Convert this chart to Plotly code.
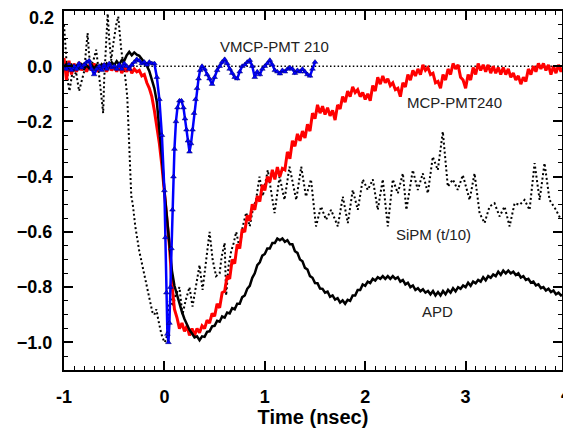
import plotly.graph_objects as go

# ---------------- data ----------------
# Sampled waveforms: start time and sample step (ns)
RED_T0, RED_DT = -1.0, 0.025
APD_T0, APD_DT = -1.0, 0.025

mcp240_y = [
    0.03, -0.05, 0.02, -0.03, 0.01, -0.02, 0.015, -0.015, 0.01, -0.02,
    0.005, -0.015, 0.01, -0.02, 0.0, -0.015, 0.01, -0.02, 0.005, -0.015,
    0.0, -0.02, 0.005, -0.025, -0.005, -0.02, 0.0, -0.025, -0.01, -0.02,
    -0.015, -0.035, -0.03, -0.06, -0.08, -0.11, -0.16, -0.22, -0.28, -0.36,
    -0.46, -0.53, -0.65, -0.79, -0.88, -0.91, -0.95, -0.93, -0.96, -0.94,
    -0.975, -0.95, -0.975, -0.95, -0.965, -0.94, -0.95, -0.92, -0.93, -0.895,
    -0.905, -0.86, -0.875, -0.82, -0.815, -0.76, -0.77, -0.70, -0.715, -0.645,
    -0.66, -0.59, -0.60, -0.54, -0.56, -0.50, -0.52, -0.47, -0.49, -0.43,
    -0.45, -0.40, -0.42, -0.375, -0.41, -0.365, -0.40, -0.37, -0.375, -0.31,
    -0.335, -0.27, -0.29, -0.245, -0.27, -0.235, -0.26, -0.21, -0.235, -0.17,
    -0.19, -0.14, -0.17, -0.145, -0.175, -0.15, -0.18, -0.16, -0.195, -0.14,
    -0.155, -0.11, -0.13, -0.09, -0.11, -0.075, -0.095, -0.085, -0.11, -0.095,
    -0.12, -0.10, -0.125, -0.07, -0.09, -0.04, -0.065, -0.035, -0.06, -0.045,
    -0.07, -0.06, -0.085, -0.08, -0.11, -0.06, -0.075, -0.03, -0.05, -0.015,
    -0.035, -0.01, -0.03, 0.005, -0.015, -0.005, -0.03, -0.025, -0.06, -0.055,
    -0.08, -0.03, -0.05, -0.01, -0.03, 0.01, -0.01, 0.005, -0.04, -0.05,
    -0.08, -0.03, -0.05, -0.005, -0.03, 0.01, -0.015, 0.005, -0.02, 0.005,
    -0.025, 0.0, -0.025, -0.005, -0.03, -0.005, -0.03, -0.01, -0.04, -0.025,
    -0.05, -0.035, -0.065, -0.04, -0.055, -0.01, -0.03, 0.0, -0.02, 0.01,
    -0.01, 0.01, -0.015, 0.005, -0.03, 0.0, -0.025, 0.005, -0.02, 0.0,
]

apd_y = [
    -0.005, 0.008, -0.010, 0.004, -0.012, 0.002, -0.008, 0.006, -0.010, 0.003,
    -0.007, 0.005, -0.009, 0.004, -0.006, 0.007, -0.004, 0.010, 0.000, 0.014,
    0.004, 0.018, 0.006, 0.022, 0.020, 0.040, 0.052, 0.040, 0.050, 0.042,
    0.038, 0.026, 0.018, 0.002, -0.018, -0.045, -0.080, -0.130, -0.220, -0.330,
    -0.450, -0.545, -0.660, -0.740, -0.795, -0.830, -0.865, -0.890, -0.915, -0.935,
    -0.955, -0.968, -0.982, -0.978, -0.992, -0.978, -0.980, -0.962, -0.960, -0.942,
    -0.940, -0.922, -0.925, -0.906, -0.910, -0.892, -0.895, -0.876, -0.880, -0.860,
    -0.860, -0.836, -0.830, -0.806, -0.795, -0.766, -0.750, -0.720, -0.710, -0.686,
    -0.680, -0.660, -0.660, -0.640, -0.640, -0.624, -0.630, -0.624, -0.636, -0.630,
    -0.645, -0.645, -0.670, -0.676, -0.700, -0.706, -0.730, -0.736, -0.760, -0.766,
    -0.785, -0.786, -0.805, -0.806, -0.820, -0.816, -0.835, -0.830, -0.845, -0.840,
    -0.856, -0.848, -0.860, -0.846, -0.850, -0.830, -0.830, -0.810, -0.810, -0.790,
    -0.795, -0.780, -0.785, -0.770, -0.776, -0.764, -0.770, -0.760, -0.770, -0.760,
    -0.770, -0.760, -0.770, -0.764, -0.780, -0.774, -0.790, -0.784, -0.800, -0.794,
    -0.810, -0.804, -0.815, -0.808, -0.820, -0.814, -0.826, -0.814, -0.830, -0.818,
    -0.830, -0.814, -0.826, -0.810, -0.820, -0.804, -0.815, -0.800, -0.806, -0.794,
    -0.800, -0.784, -0.795, -0.780, -0.786, -0.774, -0.780, -0.764, -0.775, -0.760,
    -0.766, -0.754, -0.760, -0.744, -0.755, -0.740, -0.750, -0.740, -0.750, -0.744,
    -0.756, -0.750, -0.765, -0.760, -0.774, -0.770, -0.784, -0.780, -0.794, -0.790,
    -0.804, -0.800, -0.812, -0.806, -0.818, -0.812, -0.826, -0.820, -0.830, -0.826,
]

vmcp_t = [
    -1.000, -0.975, -0.950, -0.925, -0.900, -0.875, -0.850, -0.825, -0.800, -0.775,
    -0.750, -0.725, -0.700, -0.675, -0.650, -0.625, -0.600, -0.575, -0.550, -0.525,
    -0.500, -0.475, -0.450, -0.425, -0.400, -0.375, -0.350, -0.325, -0.300, -0.275,
    -0.250, -0.225, -0.200, -0.175, -0.150, -0.125, -0.100, -0.075, -0.050, -0.025,
    0.000, 0.010, 0.020, 0.030, 0.040, 0.050, 0.060, 0.070, 0.080, 0.090,
    0.100, 0.115, 0.130, 0.150, 0.170, 0.190, 0.205, 0.220, 0.235, 0.250,
    0.265, 0.280, 0.295, 0.310, 0.325, 0.340, 0.355, 0.375, 0.400, 0.425,
    0.450, 0.475, 0.500, 0.525, 0.550, 0.575, 0.600, 0.625, 0.650, 0.675,
    0.700, 0.725, 0.750, 0.775, 0.800, 0.825, 0.850, 0.875, 0.900, 0.925,
    0.950, 0.975, 1.000, 1.025, 1.050, 1.075, 1.100, 1.125, 1.150, 1.175,
    1.200, 1.225, 1.250, 1.275, 1.300, 1.325, 1.350, 1.375, 1.400, 1.425,
    1.450, 1.475, 1.500,
]
vmcp_y = [
    0.0, -0.01, 0.005, -0.015, 0.0, -0.01, 0.01, -0.005, 0.005, 0.015,
    0.02, -0.01, -0.03, -0.01, 0.0, -0.015, 0.005, -0.01, 0.01, -0.005,
    0.0, -0.01, 0.005, -0.01, 0.01, 0.0, -0.01, 0.005, 0.015, 0.025,
    0.02, 0.01, 0.015, 0.005, 0.015, 0.01, 0.01, -0.04, -0.12, -0.25,
    -0.45, -0.62, -0.82, -0.97, -1.0, -0.93, -0.80, -0.66, -0.52, -0.40,
    -0.30, -0.20, -0.15, -0.125, -0.125, -0.15, -0.19, -0.23, -0.27, -0.31,
    -0.28, -0.23, -0.17, -0.12, -0.08, -0.045, -0.015, 0.0, -0.01, -0.03,
    -0.045, -0.065, -0.04, -0.015, 0.0, 0.015, 0.025, 0.01, -0.01, -0.025,
    -0.04, -0.045, -0.02, 0.0, 0.005, 0.015, 0.022, 0.0, -0.04, -0.02,
    -0.03, -0.01, 0.0, 0.01, 0.022, 0.005, -0.015, -0.02, -0.027, -0.015,
    -0.02, -0.01, -0.005, -0.01, -0.025, -0.015, -0.02, -0.01, -0.02, -0.03,
    -0.035, -0.01, 0.015,
]

sipm_t = [
    -1.0, -0.98, -0.96, -0.945, -0.92, -0.9, -0.88, -0.85, -0.82, -0.8,
    -0.78, -0.765, -0.75, -0.73, -0.7, -0.68, -0.66, -0.646, -0.625, -0.61,
    -0.6, -0.585, -0.565, -0.55, -0.53, -0.51, -0.497, -0.48, -0.46, -0.445,
    -0.43, -0.41, -0.39, -0.37, -0.355, -0.345, -0.33, -0.315, -0.29, -0.25,
    -0.21, -0.18, -0.15, -0.12, -0.1, -0.08, -0.06, -0.03, 0.0, 0.02,
    0.04, 0.06, 0.085, 0.11, 0.15, 0.18, 0.21, 0.25, 0.28, 0.32,
    0.35, 0.38, 0.42, 0.45, 0.48, 0.515, 0.55, 0.57, 0.6, 0.615,
    0.64, 0.665, 0.69, 0.715, 0.75, 0.78, 0.815, 0.85, 0.88, 0.915,
    0.947, 0.98, 1.03, 1.065, 1.097, 1.147, 1.196, 1.246, 1.28, 1.313,
    1.363, 1.41, 1.46, 1.51, 1.56, 1.61, 1.66, 1.727, 1.777, 1.827,
    1.876, 1.926, 1.976, 2.026, 2.076, 2.125, 2.175, 2.225, 2.275, 2.325,
    2.375, 2.41, 2.474, 2.524, 2.574, 2.624, 2.673, 2.723, 2.773, 2.823,
    2.873, 2.922, 2.972, 3.04, 3.089, 3.139, 3.189, 3.238, 3.288, 3.338,
    3.388, 3.438, 3.488, 3.538, 3.587, 3.637, 3.687, 3.737, 3.786, 3.836,
    3.9, 3.95,
]
sipm_y = [
    0.15, 0.05, -0.06, -0.09, -0.03, -0.04, -0.02, -0.09, -0.05, -0.02,
    0.06, 0.12, 0.04, 0.0, 0.03, 0.06, 0.0, -0.05, -0.12, -0.17,
    -0.05, 0.08, 0.19, 0.10, 0.02, 0.08, 0.12, 0.15, 0.18, 0.12,
    0.06, 0.01, -0.04, -0.11, -0.25, -0.38, -0.47, -0.50, -0.58, -0.67,
    -0.74, -0.79, -0.84, -0.89, -0.90, -0.88, -0.92, -0.97, -1.0, -0.99,
    -0.88, -0.84, -0.87, -0.83, -0.80, -0.90, -0.85, -0.80, -0.87, -0.78,
    -0.72, -0.81, -0.70, -0.60, -0.70, -0.76, -0.75, -0.69, -0.64, -0.83,
    -0.72, -0.67, -0.64, -0.60, -0.66, -0.58, -0.53, -0.58, -0.52, -0.48,
    -0.40, -0.47, -0.376, -0.45, -0.532, -0.40, -0.484, -0.364, -0.43, -0.484,
    -0.364, -0.472, -0.41, -0.58, -0.508, -0.556, -0.52, -0.58, -0.472, -0.568,
    -0.448, -0.52, -0.41, -0.448, -0.41, -0.52, -0.41, -0.58, -0.41, -0.46,
    -0.388, -0.52, -0.376, -0.448, -0.388, -0.46, -0.328, -0.376, -0.237, -0.436,
    -0.41, -0.448, -0.394, -0.484, -0.388, -0.532, -0.568, -0.508, -0.496, -0.544,
    -0.508, -0.58, -0.496, -0.502, -0.484, -0.52, -0.351, -0.484, -0.351, -0.484,
    -0.52, -0.556,
]

X_RANGE = [-1.0, 3.96]
Y_RANGE = [-1.1, 0.2]
x_ticks = [-1, 0, 1, 2, 3]
y_ticks = [-1.0, -0.8, -0.6, -0.4, -0.2, 0.0]

labels = [
    ("VMCP-PMT 210", 1.097, 0.072),
    ("MCP-PMT240", 2.885, -0.13),
    ("SiPM (t/10)", 2.68, -0.61),
    ("APD", 2.72, -0.888),
]

# ---------------- figure ----------------
mcp240_t = [round(RED_T0 + RED_DT * i, 4) for i in range(len(mcp240_y))]
apd_t = [round(APD_T0 + APD_DT * i, 4) for i in range(len(apd_y))]

fig = go.Figure()

fig.add_trace(go.Scatter(x=X_RANGE, y=[0, 0], mode="lines",
                         line=dict(color="black", width=1.5, dash="1.5px,2.3px"),
                         hoverinfo="skip"))
fig.add_trace(go.Scatter(x=sipm_t, y=sipm_y, mode="lines",
                         line=dict(color="black", width=2, dash="2px,2.5px")))
fig.add_trace(go.Scatter(x=mcp240_t, y=mcp240_y, mode="lines",
                         line=dict(color="#ff0000", width=3)))
fig.add_trace(go.Scatter(x=apd_t, y=apd_y, mode="lines",
                         line=dict(color="black", width=2.5)))
fig.add_trace(go.Scatter(x=vmcp_t, y=vmcp_y, mode="lines+markers",
                         line=dict(color="#0000ff", width=2.5),
                         marker=dict(symbol="triangle-up", size=5, color="#0000ff",
                                     line=dict(color="#000066", width=0.5))))

for txt, lx, ly in labels:
    fig.add_annotation(x=lx, y=ly, text=txt, showarrow=False, xref="x", yref="y",
                       font=dict(family="Arial", size=15, color="#222222"))

tickfont = dict(family="Arial", size=18, color="black", weight="bold")

# tick label "4" sits at the (cropped) right edge
fig.add_annotation(x=(4 - X_RANGE[0]) / (X_RANGE[1] - X_RANGE[0]), y=0,
                   xref="paper", yref="paper", text="4", showarrow=False,
                   xanchor="center", yanchor="top", yshift=-13, font=tickfont)
# top y label "0.2" is drawn a little below the top edge, as in the reference
fig.add_annotation(x=0, y=1, xref="paper", yref="paper", text="0.2",
                   showarrow=False, xanchor="right", yanchor="middle",
                   xshift=-8, yshift=-7, font=tickfont)

fig.update_layout(
    width=563, height=428,
    margin=dict(l=64, r=1, t=11, b=58),
    paper_bgcolor="white", plot_bgcolor="white",
    showlegend=False,
    xaxis=dict(range=X_RANGE, tickvals=x_ticks, ticktext=[str(v) for v in x_ticks],
               automargin=False,
               ticks="inside", ticklen=9, tickwidth=1.5, tickcolor="black",
               minor=dict(dtick=0.1, tick0=0, ticks="inside", ticklen=4,
                          tickwidth=1.2, tickcolor="black"),
               showline=True, linewidth=2, linecolor="black", mirror="allticks",
               showgrid=False, zeroline=False, tickfont=tickfont,
               ticklabelstandoff=9,
               title=dict(text="Time (nsec)", standoff=4,
                          font=dict(family="Arial", size=20, color="black",
                                    weight="bold"))),
    yaxis=dict(range=Y_RANGE, tickvals=y_ticks + [0.2], tickformat=".1f",
               ticktext=[f"{v:.1f}".replace("-", "\u2212") for v in y_ticks] + [""],
               automargin=False,
               ticks="inside", ticklen=9, tickwidth=1.5, tickcolor="black",
               minor=dict(dtick=0.05, tick0=0, ticks="inside", ticklen=4,
                          tickwidth=1.2, tickcolor="black"),
               showline=True, linewidth=2, linecolor="black", mirror="allticks",
               showgrid=False, zeroline=False, tickfont=tickfont,
               ticklabelstandoff=6),
)

fig.write_html(
    "out.html",
    config={"displayModeBar": False},
    post_script="document.body.style.margin='0';document.body.style.overflow='hidden';",
)
